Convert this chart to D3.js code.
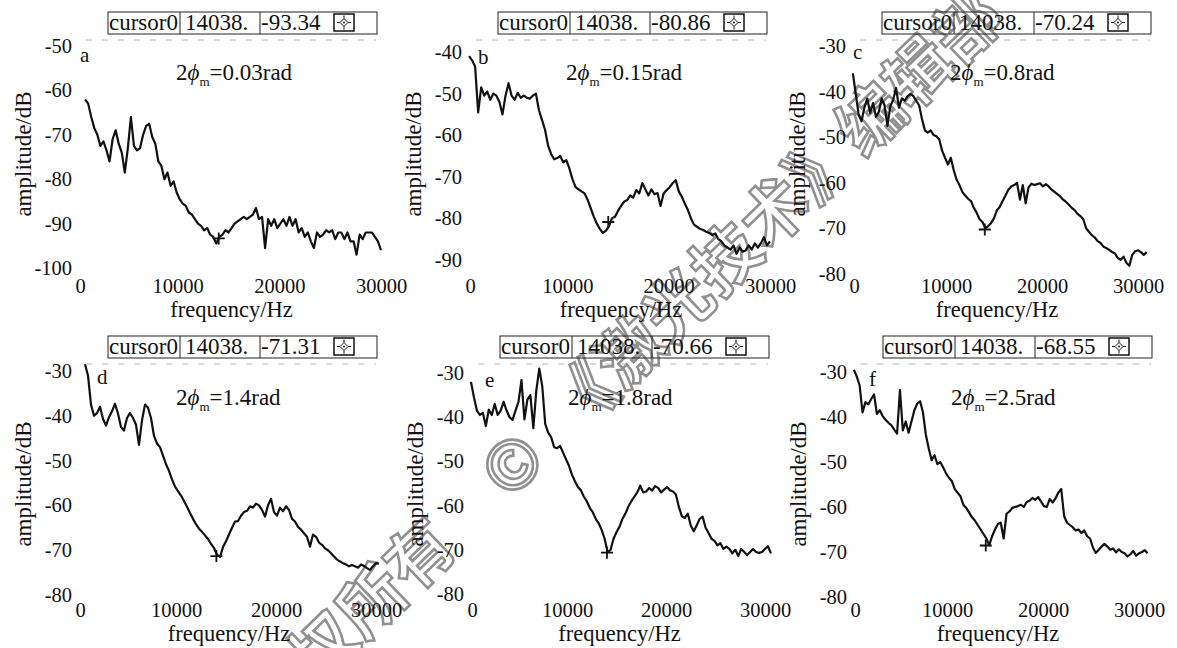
<!DOCTYPE html>
<html>
<head>
<meta charset="utf-8">
<script src="https://cdn.jsdelivr.net/npm/d3@7"></script>
<style>
  body { margin: 0; background: #fff; }
  text { font-family: "Liberation Serif", "DejaVu Serif", serif; fill: #111; }
</style>
</head>
<body>
<svg id="chart" width="1177" height="648"></svg>
<script>
// shared frequency grid of the six spectra (Hz)
const freqHz = [
  300, 600, 900, 1200, 1500, 1800, 2100, 2400, 2700, 3000,
  3300, 3600, 3900, 4200, 4500, 4800, 5100, 5400, 5700, 6000,
  6300, 6600, 6900, 7200, 7500, 7800, 8100, 8400, 8700, 9000,
  9300, 9600, 9900, 10200, 10500, 10800, 11100, 11400, 11700, 12000,
  12300, 12600, 12900, 13200, 13500, 13800, 14100, 14400, 14700, 15000,
  15300, 15600, 15900, 16200, 16500, 16800, 17100, 17400, 17700, 18000,
  18300, 18600, 18900, 19200, 19500, 19800, 20100, 20400, 20700, 21000,
  21300, 21600, 21900, 22200, 22500, 22800, 23100, 23400, 23700, 24000,
  24300, 24600, 24900, 25200, 25500, 25800, 26100, 26400, 26700, 27000,
  27300, 27600, 27900, 28200, 28500, 28800, 29100, 29400, 29700, 30000,
  30300, 30600, 30900
];

// amplitude (dB), null = no trace there
const ampA = [
  null, null, -62, -63, -66, -68.5, -70, -72.5, -71.5, -73.5,
  -76, -71, -69, -72, -74, -78.5, -73, -66, -72.5, -73.5,
  -73, -70, -68, -67.5, -70.5, -72, -76, -77, -80, -78.5,
  -81.5, -80.5, -83, -84.5, -85.5, -86, -87.5, -88, -89, -90,
  -90.5, -91.5, -91, -92.5, -93, -94.5, -93, -92.5, -91.5, -92,
  -91, -90, -89.5, -89, -88.5, -89, -88.5, -88, -86.5, -89,
  -88.5, -95.5, -89, -90.5, -89, -91, -90, -89, -90.5, -88.5,
  -90.5, -89, -92, -91, -93, -92, -94, -95.5, -92, -93,
  -92.5, -91.5, -92, -91.5, -93.5, -92, -92, -93.5, -92, -94,
  -94, -97, -92.5, -93.5, -92, -92, -92, -93, -94, -96,
  null, null, null
];
const ampB = [
  -41, -42, -43.5, -54.5, -48.5, -50.5, -49.5, -51.5, -50, -50.5,
  -52, -55, -50.5, -47.5, -50.5, -51.5, -49.8, -51, -50.5, -51,
  -51.2, -50.5, -50, -54, -56.3, -58.7, -62.5, -64.5, -65.8, -65.5,
  -65, -66.5, -66, -68, -70.5, -72.4, -73, -73.5, -74, -75.5,
  -77.5, -79.5, -81.2, -82.5, -83.5, -83, -82, -80, -79.6, -78.2,
  -77, -76, -75.6, -74.5, -75, -73.2, -74, -71.5, -73, -74.5,
  -73, -74.2, -73.9, -77, -74, -73.2, -72.5, -71.5, -70.8, -73.5,
  -74.8, -76.5, -78, -80, -81.5, -82, -82.5, -82.8, -83.2, -83.5,
  -84, -83.6, -85, -85.5, -86.5, -87, -87.5, -86.5, -88.5, -87,
  -88, -87.7, -86.5, -87.5, -86, -87, -86, -84.5, -86.5, -85.5,
  null, null, null
];
const ampC = [
  -36, -40.5, -45, -46.5, -43.5, -41.5, -44.7, -42.5, -45.5, -44.5,
  -41.5, -43, -47.5, -43.2, -41.8, -39.2, -43.5, -41.5, -42, -41,
  -40.5, -41, -42, -43, -46, -48.5, -49, -48.5, -49.5, -49.8,
  -50.5, -53, -54.5, -56, -54.5, -57.2, -59.3, -60.5, -62, -62.8,
  -63.5, -64, -65.5, -66.6, -68, -68.6, -70, -69.5, -68.8, -67.8,
  -66, -65.3, -64, -62.8, -61.5, -60.8, -60.5, -60, -63.7, -60.5,
  -64.5, -61, -60.2, -60.5, -60.3, -60.1, -60.8, -60.3, -60.8, -61.5,
  -62, -62.5, -63, -63.7, -64.2, -64.8, -65.5, -66, -66.8, -67.3,
  -68, -70, -70.8, -71.5, -72, -72.8, -73.2, -74, -74.3, -74.7,
  -75.2, -75.5, -76.5, -76.9, -76.2, -77.6, -78.2, -75.8, -75, -74.8,
  -75.2, -75.8, -75.2
];
const ampD = [
  null, null, -28.5, -31, -37.5, -40, -39.4, -38, -40.7, -42.2,
  -40.3, -39, -37.3, -39.5, -42.5, -43.3, -40.5, -39.4, -40.5, -42,
  -46.5, -41, -37.5, -38.2, -40.5, -44.5, -46.2, -47, -48.9, -50.8,
  -52.3, -54.2, -55.8, -56.8, -57.8, -59, -60.3, -61.7, -63, -64.2,
  -65.2, -65.9, -66.7, -67.5, -68.6, -69.5, -71, -71.5, -69.3, -68,
  -66.5, -65, -63.6, -63.5, -62.3, -61.5, -61.2, -60.2, -60.5, -59.6,
  -60, -61, -62.5, -60, -58.5, -61.5, -62.3, -60.5, -61.3, -60.2,
  -61, -63, -63.6, -64.8, -65.4, -66.2, -67, -69.2, -66.5, -67,
  -68.3, -68.8, -69.6, -70, -70.7, -71.4, -72.1, -72.5, -72.9, -73.2,
  -73.6, -73.3, -73.6, -73.9, -73.2, -73.5, -74, -74.4, -73.6, -72.9,
  -73, null, null
];
const ampE = [
  -32, -35.5, -38.5, -39.5, -39, -42, -38.3, -39.5, -37, -39.5,
  -38.5, -36.5, -38.5, -40, -40.6, -38.5, -36.5, -31.6, -40.5, -36,
  -35, -42.5, -34, -29, -33, -41.5, -43.5, -44.5, -46.8, -47,
  -46.5, -48, -49.5, -51, -53, -54.5, -55.8, -56.5, -58, -59,
  -60.5, -61.5, -63, -64, -65.5, -67.5, -70.5, -70, -67.5, -66,
  -64.8, -63, -61.8, -60.2, -59, -58, -57, -55.5, -57, -56.8,
  -56, -56.6, -55.6, -56, -57, -56.4, -55.8, -56.5, -56.8, -57.5,
  -60.3, -62.4, -62.8, -61.8, -64.5, -65.8, -64.5, -63, -62.5, -65,
  -66.2, -67.5, -68, -69, -68.5, -69.8, -69.3, -69.8, -70.8, -70,
  -71.4, -69.8, -70.5, -71.2, -70.5, -69.8, -70.5, -70.7, -70.5, -69.8,
  -69.2, -70.8, null
];
const ampF = [
  -29.5, -31, -33, -39, -36.7, -37.2, -36, -35, -39.3, -38.5,
  -39.8, -40.6, -41.3, -41.8, -42.8, -43.7, -34, -43, -41, -43.5,
  -41, -38.5, -37, -36.5, -39, -44, -47, -49.6, -48.5, -50.5,
  -50, -51.2, -52.5, -53.5, -54.2, -56, -56.8, -57.6, -59.5, -60.2,
  -61.2, -62.3, -63, -64, -65, -66, -67, -68.5, -66.5, -65,
  -63.8, -63.5, -67, -61.5, -61, -60.2, -60, -59.8, -59.5, -60,
  -58.9, -58.6, -58, -58.4, -57.8, -58.8, -59.8, -60, -58.2, -59,
  -58.1, -56.8, -56, -62, -63.5, -64, -64.5, -65.2, -65, -65.8,
  -65.2, -66.5, -67, -69, -70.2, -69.5, -68.8, -68.2, -68.8, -69.5,
  -69.2, -70.1, -69.4, -70, -70.3, -71, -70.5, -69.8, -70.8, -70.3,
  -70, -69.6, -70.3
];

const series = [ampA, ampB, ampC, ampD, ampE, ampF];
const panelLetters = ["a", "b", "c", "d", "e", "f"];
const phaseRad = ["0.03", "0.15", "0.8", "1.4", "1.8", "2.5"];
const cursorFreq = 14038;
const cursorAmp = [-93.34, -80.86, -70.24, -71.31, -70.66, -68.55];

// tick labels
const xTicks = [0, 10000, 20000, 30000];
const yTicksA = [-50, -60, -70, -80, -90, -100];
const yTicksB = [-40, -50, -60, -70, -80, -90];
const yTicksC = [-30, -40, -50, -60, -70, -80];
const yTicks = [yTicksA, yTicksB, yTicksC, yTicksC, yTicksC, yTicksC];

// page layout (pixels)
const rows = [
  { tickY: 287, titleY: 309, boxTop: 12, boxBot: 34, annoY: 80, yTitleY: 154, dashY: 40 },
  { tickY: 611, titleY: 633, boxTop: 336, boxBot: 358, annoY: 405, yTitleY: 484, dashY: 364 }
];
const layout = [
  { x0: 76, x1: 381, yr: [46, 268], row: 0, letter: [4, 55] },
  { x0: 466, x1: 770, yr: [52, 260], row: 0, letter: [12, 57] },
  { x0: 850, x1: 1138, yr: [46, 274], row: 0, letter: [3, 52] },
  { x0: 76, x1: 376, yr: [371, 595], row: 1, letter: [21, 377] },
  { x0: 468, x1: 765, yr: [373, 594], row: 1, letter: [17, 380] },
  { x0: 851, x1: 1139, yr: [372, 597], row: 1, letter: [18, 379] }
];

const svg = d3.select("#chart");

// watermark behind everything
svg.append("text")
  .attr("transform", "translate(618,356) rotate(-44)")
  .attr("text-anchor", "middle")
  .attr("dominant-baseline", "central")
  .style("font-family", '"Noto Sans CJK SC", sans-serif')
  .style("font-weight", 700)
  .style("font-size", "66px")
  .style("letter-spacing", "1px")
  .style("fill", "none")
  .attr("stroke", "#909090")
  .attr("stroke-width", 2.6)
  .text("版权所有　©　《激光技术》编辑部");

layout.forEach((p, i) => {
  const row = rows[p.row];
  const ticks = yTicks[i];
  const x = d3.scaleLinear().domain([0, 30000]).range([p.x0, p.x1]);
  const y = d3.scaleLinear().domain([ticks[0], ticks[ticks.length - 1]]).range(p.yr);
  const g = svg.append("g");

  // y axis: labels only, plain hyphen minus like the scan
  const yAxis = g.append("g")
    .attr("transform", `translate(${p.x0 - 4},0)`)
    .call(d3.axisLeft(y).tickValues(ticks).tickSize(0).tickPadding(0).tickFormat(d => String(d)));
  yAxis.select(".domain").remove();
  yAxis.attr("font-size", 20.5).attr("font-family", null);

  // x axis: labels only
  const xAxis = g.append("g")
    .attr("transform", `translate(0,${row.tickY})`)
    .call(d3.axisBottom(x).tickValues(xTicks).tickSize(0).tickFormat(d => String(d)));
  xAxis.select(".domain").remove();
  xAxis.attr("font-size", 20.5).attr("font-family", null);
  xAxis.selectAll("text")
    .attr("y", 0)
    .attr("dy", "0.3em")
    .attr("dx", d => (d === 0 ? 4 : 0));

  // axis titles
  g.append("text")
    .attr("x", (p.x0 + p.x1) / 2 + 3)
    .attr("y", row.titleY)
    .attr("text-anchor", "middle")
    .attr("dominant-baseline", "central")
    .style("font-size", "22.5px")
    .text("frequency/Hz");
  g.append("text")
    .attr("transform", `translate(${p.x0 - 53},${row.yTitleY}) rotate(-90)`)
    .attr("text-anchor", "middle")
    .attr("dominant-baseline", "central")
    .style("font-size", "23px")
    .text("amplitude/dB");

  // the spectrum
  const pts = freqHz.map((f, k) => [f, series[i][k]]);
  const line = d3.line()
    .defined(d => d[1] !== null)
    .x(d => x(d[0]))
    .y(d => y(d[1]));
  g.append("path")
    .attr("d", line(pts))
    .attr("fill", "none")
    .attr("stroke", "#111")
    .attr("stroke-width", 2.2)
    .attr("stroke-linejoin", "round");

  // cursor cross
  const cx = x(cursorFreq), cy = y(cursorAmp[i]);
  g.append("path")
    .attr("d", `M${cx - 6},${cy}H${cx + 6}M${cx},${cy - 6}V${cy + 6}`)
    .attr("stroke", "#111")
    .attr("stroke-width", 1.8);

  // panel letter
  g.append("text")
    .attr("x", p.x0 + p.letter[0])
    .attr("y", p.letter[1])
    .attr("dominant-baseline", "central")
    .style("font-size", "21px")
    .text(panelLetters[i]);

  // 2phi_m annotation
  const anno = g.append("text")
    .attr("x", p.x0 + 100)
    .attr("y", row.annoY)
    .style("font-size", "23px");
  anno.append("tspan").text("2");
  anno.append("tspan").style("font-style", "italic").text("ϕ");
  anno.append("tspan").attr("dy", 6).style("font-size", "13px").text("m");
  anno.append("tspan").attr("dy", -6).text("=" + phaseRad[i] + "rad");

  // cursor legend box
  const bx = p.x0 + 32, bw = 269, bt = row.boxTop, bh = row.boxBot - row.boxTop;
  g.append("rect")
    .attr("x", bx).attr("y", bt).attr("width", bw).attr("height", bh)
    .attr("fill", "none").attr("stroke", "#222").attr("stroke-width", 1);
  [p.x0 + 104, p.x0 + 184].forEach(dx => {
    g.append("line")
      .attr("x1", dx).attr("x2", dx).attr("y1", bt).attr("y2", row.boxBot)
      .attr("stroke", "#222").attr("stroke-width", 1);
  });
  const base = row.boxBot - 4;
  g.append("text").attr("x", bx + 1).attr("y", base).style("font-size", "23px").text("cursor0");
  g.append("text").attr("x", p.x0 + 109).attr("y", base).style("font-size", "23px").text("14038.");
  g.append("text").attr("x", p.x0 + 185).attr("y", base).style("font-size", "23px")
    .text(cursorAmp[i].toFixed(2));
  const ix = p.x0 + 258, iy = bt + 2;
  g.append("rect")
    .attr("x", ix).attr("y", iy).attr("width", 20).attr("height", 17)
    .attr("fill", "none").attr("stroke", "#111").attr("stroke-width", 1.5);
  const mx = ix + 10, my = iy + 8.5;
  g.append("path")
    .attr("d", `M${mx},${my - 4}L${mx + 4},${my}L${mx},${my + 4}L${mx - 4},${my}Z` +
      `M${mx},${my - 7}V${my - 4}M${mx},${my + 4}V${my + 7}M${mx - 7},${my}H${mx - 4}M${mx + 4},${my}H${mx + 7}`)
    .attr("fill", "none").attr("stroke", "#111").attr("stroke-width", 1);
  g.append("circle").attr("cx", mx).attr("cy", my).attr("r", 1).attr("fill", "#111");

  // faint dashed frame edge under the legend
  g.append("line")
    .attr("x1", p.x0 + 10).attr("x2", p.x0 + 300)
    .attr("y1", row.dashY).attr("y2", row.dashY)
    .attr("stroke", "#888").attr("stroke-width", 1)
    .attr("stroke-dasharray", "6 10").attr("opacity", 0.6);
});
</script>
</body>
</html>
